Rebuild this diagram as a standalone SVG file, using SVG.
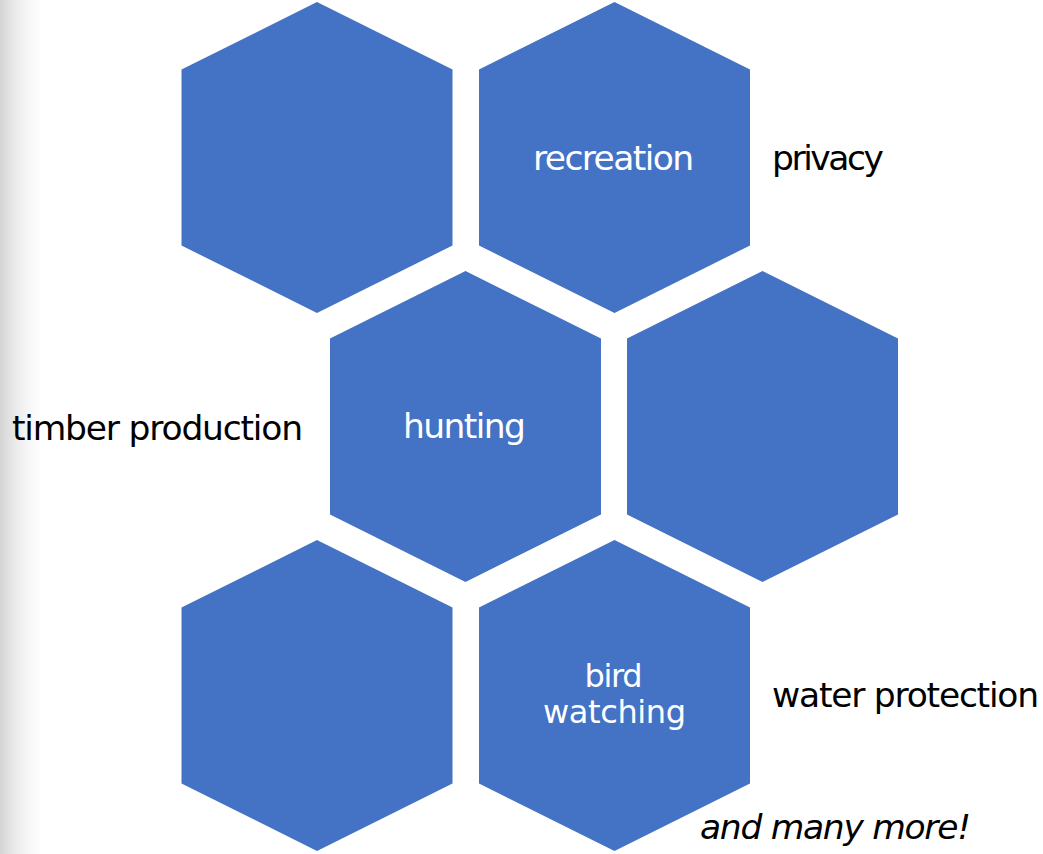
<svg xmlns="http://www.w3.org/2000/svg" width="1043" height="854" viewBox="0 0 1043 854">
  <defs>
    <linearGradient id="edge" x1="0" y1="0" x2="1" y2="0">
      <stop offset="0" stop-color="#d4d4d4"/>
      <stop offset="0.15" stop-color="#dedede"/>
      <stop offset="0.4" stop-color="#ececec"/>
      <stop offset="0.7" stop-color="#f7f7f7"/>
      <stop offset="1" stop-color="#ffffff"/>
    </linearGradient>
    <polygon id="hex" points="0,-155.5 135.5,-88 135.5,88 0,155.5 -135.5,88 -135.5,-88"/>
  </defs>
  <style>
    .hex { fill: #4472C4; }
    .in { font-family: "DejaVu Sans", Verdana, sans-serif; font-size: 34.5px; fill: #ffffff; text-anchor: middle; }
    .in2 { font-size: 32px; }
    .out { font-family: "DejaVu Sans", Verdana, sans-serif; font-size: 34.5px; fill: #000000; }
    .more { font-family: "DejaVu Sans", Verdana, sans-serif; font-size: 34.5px; font-style: italic; fill: #000000; }
  </style>
  <rect x="0" y="0" width="1043" height="854" fill="#ffffff"/>
  <rect x="0" y="0" width="42" height="854" fill="url(#edge)"/>

  <g id="hex-top-left">
    <use href="#hex" class="hex" x="317" y="157.5"/>
  </g>
  <g id="hex-recreation">
    <use href="#hex" class="hex" x="614.5" y="157.5"/>
    <text class="in" x="613.5" y="170" textLength="161">recreation</text>
  </g>
  <g id="hex-hunting">
    <use href="#hex" class="hex" x="465.5" y="426.5"/>
    <text class="in" x="464.5" y="437.5" textLength="123">hunting</text>
  </g>
  <g id="hex-middle-right">
    <use href="#hex" class="hex" x="762.5" y="426.5"/>
  </g>
  <g id="hex-bottom-left">
    <use href="#hex" class="hex" x="317" y="695.5"/>
  </g>
  <g id="hex-bird-watching">
    <use href="#hex" class="hex" x="614.5" y="695.5"/>
    <text class="in in2" x="613.5" y="686.5" textLength="58">bird</text>
    <text class="in in2" x="614.5" y="723" textLength="143">watching</text>
  </g>

  <g id="labels">
    <text class="out" x="772" y="170" textLength="112">privacy</text>
    <text class="out" x="12" y="440" textLength="291">timber production</text>
    <text class="out" x="772" y="707" textLength="267">water protection</text>
    <text class="more" x="700" y="838.5" textLength="271">and many more!</text>
  </g>
  <g id="connectors"/>
</svg>
